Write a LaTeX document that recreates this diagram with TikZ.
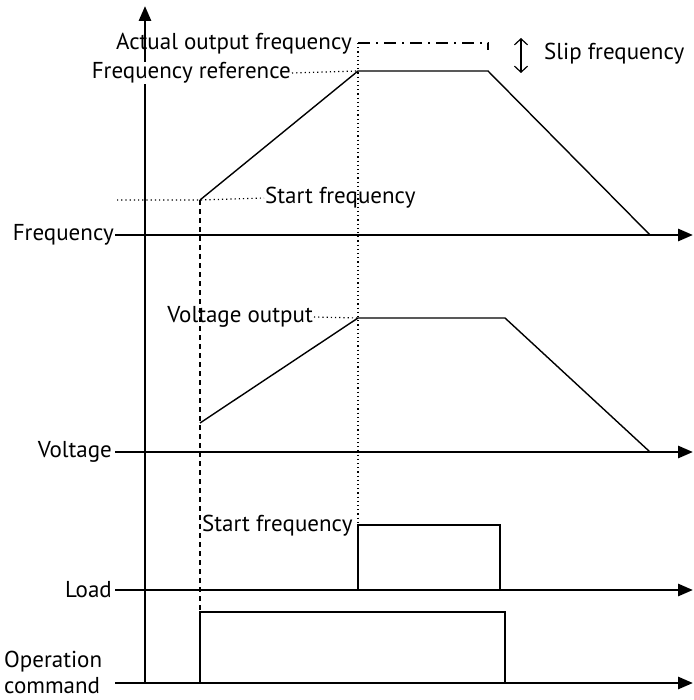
\documentclass[tikz,border=0pt]{standalone}
\usepackage{fontspec}
\setmainfont{PT Sans}
\usetikzlibrary{arrows.meta}
\begin{document}
\begin{tikzpicture}[x=1pt,y=-1pt,
  axis/.style={line width=2.8pt,-{Triangle[length=15pt,width=12pt]}},
  curve/.style={line width=1.4pt},
  dotline/.style={line width=1.2pt,dash pattern=on 1.2pt off 3pt},
  dashline/.style={line width=1.2pt,dash pattern=on 5pt off 4pt},
  lbl/.style={font=\fontsize{23}{25}\selectfont,inner sep=1pt}]
\useasboundingbox (0,0) rectangle (693,700);
% vertical axis
\coordinate (vb) at (145,683);
\coordinate (vt) at (145,6);
\draw[axis] (vb) -- (vt);
% horizontal axes
\coordinate (f0) at (115,235); \coordinate (f1) at (693,235);
\coordinate (v0) at (115,452); \coordinate (v1) at (693,452);
\coordinate (l0) at (115,590); \coordinate (l1) at (693,590);
\coordinate (o0) at (115,683); \coordinate (o1) at (693,683);
\draw[axis] (f0) -- (f1);
\draw[axis] (v0) -- (v1);
\draw[axis] (l0) -- (l1);
\draw[axis] (o0) -- (o1);
% axis labels
\node[lbl,anchor=east] (fl) at (115,235) {Frequency};
\node[lbl,anchor=east] (vl) at (113,452) {Voltage};
\node[lbl,anchor=east] (ll) at (113,590) {Load};
\node[lbl,anchor=west,align=left,font=\fontsize{23}{26}\selectfont] (ol) at (3,672) {Operation\\command};
% frequency curve
\coordinate (fa) at (200,200);
\coordinate (fb) at (358,71);
\coordinate (fc) at (488,71);
\coordinate (fd) at (650,235);
\draw[curve] (fa) -- (fb) -- (fc) -- (fd);
% actual output frequency box
\coordinate (aa) at (358,43);
\coordinate (ab) at (488,43);
\coordinate (ac) at (488,50);
\draw[line width=1.3pt,dash pattern=on 12pt off 6pt on 2pt off 6pt] (aa) -- (ab) -- (ac);
\node[lbl,anchor=east] (aof) at (353,44) {Actual output frequency};
\node[lbl,anchor=east,fill=white] (fr) at (292,73) {Frequency reference};
\draw[dotline] (fr.east) -- (fb);
% slip
\coordinate (s0) at (521,38);
\coordinate (s1) at (521,73);
\draw[line width=1.2pt,{Straight Barb[length=6pt,width=13pt]}-{Straight Barb[length=6pt,width=13pt]}] (s0) -- (s1);
\node[lbl,anchor=west] (slip) at (543,54) {Slip frequency};
% start frequency
\node[lbl,anchor=west] (sf) at (264,198) {Start frequency};
\coordinate (sfl) at (117,200);
\draw[dotline] (sfl) -- (fa) -- (sf.west);
% vertical guides
\coordinate (g1) at (200,612);
\draw[dashline] (fa) -- (g1);
\draw[dotline] (aa) -- (358,525);
% voltage curve
\coordinate (va) at (200,423);
\coordinate (vbb) at (358,318);
\coordinate (vc) at (505,318);
\coordinate (vd) at (650,452);
\draw[curve] (va) -- (vbb) -- (vc) -- (vd);
\node[lbl,anchor=east] (vo) at (314,317) {Voltage output};
\draw[dotline] (vo.east) -- (vbb);
% load pulse
\coordinate (la) at (358,590);
\coordinate (lb) at (358,525);
\coordinate (lc) at (500,525);
\coordinate (ld) at (500,590);
\draw[curve] (la) -- (lb) -- (lc) -- (ld);
\node[lbl,anchor=west] (lsf) at (201,526) {Start frequency};
% operation command pulse
\coordinate (oa) at (200,683);
\coordinate (ob) at (200,612);
\coordinate (oc) at (505,612);
\coordinate (od) at (505,683);
\draw[curve] (oa) -- (ob) -- (oc) -- (od);
\end{tikzpicture}
\end{document}
